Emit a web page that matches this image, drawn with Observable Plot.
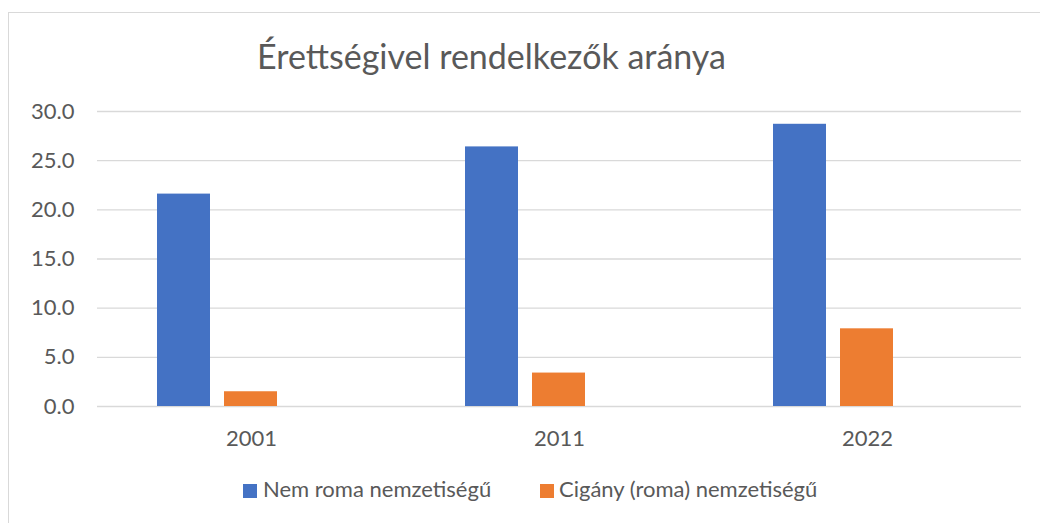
<!DOCTYPE html>
<html><head><meta charset="utf-8">
<script src="https://cdn.jsdelivr.net/npm/d3@7"></script>
<script src="https://cdn.jsdelivr.net/npm/@observablehq/plot@0.6"></script>
<style>
body{margin:0;background:#fff;font-family:Lato,sans-serif;}
#wrap{position:relative;width:1040px;height:523px;overflow:hidden;background:#fff;}
#frame{position:absolute;left:8px;top:12px;width:1100px;height:600px;border:1px solid #d9d9d9;box-sizing:border-box;}
#title{position:absolute;left:491.5px;top:38.8px;transform:translateX(-50%);font-size:34px;line-height:34px;color:#595959;white-space:nowrap;}
#chart{position:absolute;left:0;top:90px;}
.leg{position:absolute;top:477.5px;font-size:22px;line-height:22px;color:#595959;white-space:nowrap;}
.sw{position:absolute;width:14px;height:14px;top:6.5px;left:0;}
.lt{position:absolute;left:20px;top:0;}
</style>
</head><body>
<div id="wrap">
  <div id="frame"></div>
  <div id="title">Érettségivel rendelkezők aránya</div>
  <div id="chart"></div>
  <div id="legend"></div>
</div>
<script>
const years = ["2001", "2011", "2022"];
const series = ["Nem roma nemzetiségű", "Cigány (roma) nemzetiségű"];
const nemRoma = [21.6, 26.4, 28.7];
const cigany = [1.5, 3.4, 7.9];
const yTicks = [0, 5, 10, 15, 20, 25, 30];
const colors = ["#4472C4", "#ED7D31"];

const data = years.flatMap((y, i) => [
  {year: y, series: series[0], value: nemRoma[i]},
  {year: y, series: series[1], value: cigany[i]}
]);

const chart = Plot.plot({
  width: 1040,
  height: 360,
  marginTop: 21,
  marginBottom: 44,
  marginLeft: 96,
  marginRight: 19,
  style: {fontFamily: "Lato, sans-serif", fontSize: "20px", color: "#595959", background: "transparent", overflow: "visible"},
  fx: {domain: years, padding: 0, label: null},
  x: {domain: [...series, "__gap"], axis: null, paddingInner: 0.206, paddingOuter: 0.868},
  y: {domain: [0, 30], label: null},
  color: {domain: series, range: colors},
  marks: [
    Plot.gridY(yTicks, {stroke: "#d9d9d9", strokeOpacity: 1, strokeWidth: 1.3}),
    Plot.axisY(yTicks, {tickSize: 0, tickPadding: 23, tickFormat: d => d.toFixed(1), label: null, fill: "#595959", fontSize: 22}),
    Plot.barY(data, {fx: "year", x: "series", y: "value", fill: "series"}),
    Plot.axisFx({anchor: "bottom", tickSize: 0, tickPadding: 23.4, label: null, fill: "#595959", fontSize: 22})
  ]
});
document.getElementById("chart").appendChild(chart);

const legendPos = [243, 540];
const legend = document.getElementById("legend");
series.forEach((s, i) => {
  const item = document.createElement("div");
  item.className = "leg";
  item.style.left = legendPos[i] + "px";
  const sw = document.createElement("span");
  sw.className = "sw";
  sw.style.background = colors[i];
  const t = document.createElement("span");
  t.className = "lt";
  t.style.left = (i === 0 ? 20 : 19) + "px";
  t.textContent = s;
  item.appendChild(sw);
  item.appendChild(t);
  legend.appendChild(item);
});
</script>
</body></html>
